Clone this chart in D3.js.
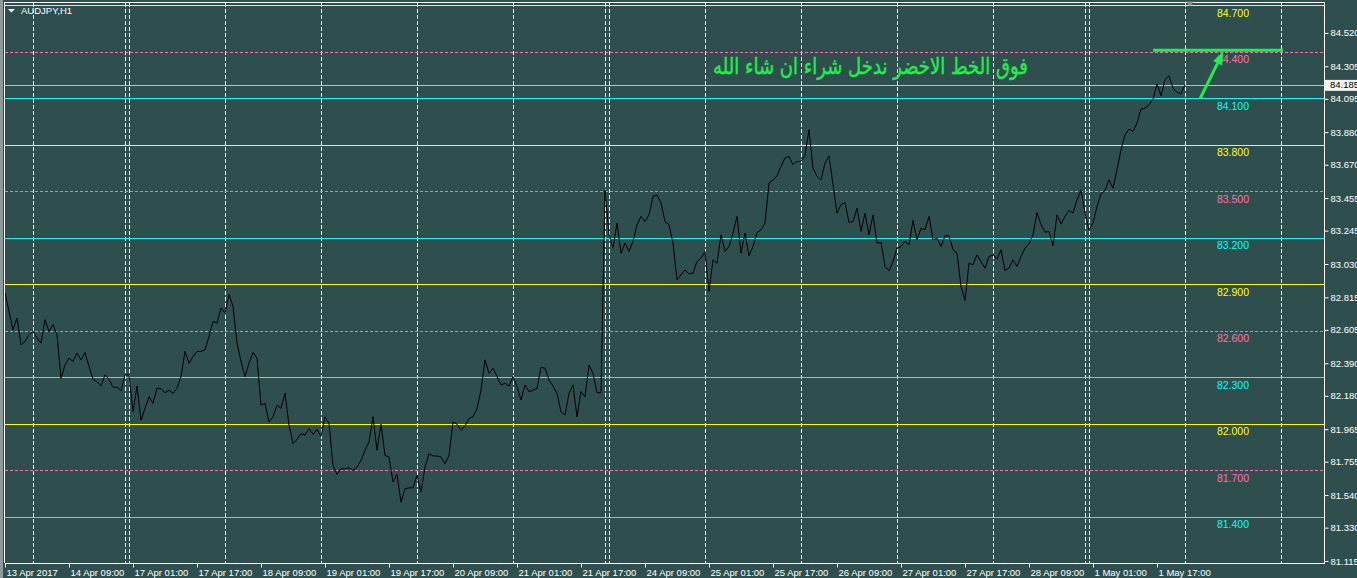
<!DOCTYPE html>
<html><head><meta charset="utf-8">
<script src="https://cdn.jsdelivr.net/npm/d3@7"></script>
<style>html,body{margin:0;padding:0;background:#2F4F4F;overflow:hidden}</style>
</head><body><svg id="c" width="1357" height="578"></svg>
<script>
// ---------- data ----------
const symbolTitle = "AUDJPY,H1";
const closes = [
82.844,82.725,82.606,82.682,82.509,82.531,82.574,82.595,82.552,82.520,
82.671,82.595,82.639,82.574,82.293,82.379,82.423,82.401,82.455,82.412,
82.459,82.369,82.287,82.271,82.243,82.315,82.287,82.235,82.235,82.213,
82.315,82.315,82.077,82.243,82.023,82.099,82.174,82.131,82.228,82.228,
82.200,82.217,82.196,82.228,82.304,82.466,82.390,82.433,82.466,82.466,
82.477,82.563,82.660,82.649,82.747,82.714,82.833,82.757,82.520,82.401,
82.304,82.390,82.459,82.423,82.120,82.131,82.012,82.045,82.120,82.099,
82.196,81.991,81.872,81.898,81.937,81.926,81.969,81.932,81.963,81.919,
82.045,82.002,81.732,81.673,81.710,81.710,81.716,81.699,81.721,81.764,
81.829,81.883,82.045,81.829,81.997,81.796,81.786,81.624,81.673,81.494,
81.580,81.587,81.587,81.667,81.559,81.721,81.807,81.792,81.792,81.786,
81.742,81.796,82.012,81.997,81.958,81.986,82.034,82.045,82.099,82.217,
82.412,82.325,82.358,82.304,82.250,82.261,82.243,82.304,82.239,82.153,
82.250,82.207,82.217,82.228,82.364,82.358,82.282,82.243,82.196,82.077,
82.056,82.196,82.250,82.045,82.207,82.174,82.379,82.325,82.200,82.200,
83.509,83.218,83.132,83.294,83.100,83.165,83.111,83.175,83.283,83.337,
83.304,83.347,83.466,83.476,83.423,83.304,83.283,83.165,82.928,82.960,
82.992,82.967,82.971,83.046,83.068,83.111,82.853,83.057,83.035,83.218,
83.111,83.143,83.229,83.337,83.100,83.229,83.083,83.143,83.233,83.251,
83.294,83.552,83.573,83.599,83.659,83.713,83.724,83.670,83.691,83.691,
83.734,83.896,83.648,83.595,83.573,83.681,83.728,83.541,83.358,83.412,
83.427,83.298,83.304,83.390,83.240,83.358,83.218,83.347,83.165,83.169,
83.014,82.986,83.046,83.132,83.143,83.175,83.154,83.311,83.186,83.261,
83.251,83.337,83.186,83.197,83.143,83.212,83.212,83.122,83.100,82.885,
82.795,83.035,83.025,83.089,83.046,83.003,83.078,83.089,83.061,83.122,
82.988,83.003,83.057,83.014,83.078,83.132,83.160,83.218,83.362,83.283,
83.235,83.240,83.147,83.347,83.289,83.337,83.375,83.358,83.444,83.504,
83.358,83.251,83.294,83.401,83.483,83.504,83.573,83.519,83.638,83.767,
83.863,83.900,83.885,83.939,84.029,84.035,84.057,84.094,84.192,84.115,
84.218,84.244,84.165,84.137,84.128,84.185
];
const xTickBars = [0,16,32,48,64,80,96,112,128,144,160,176,192,208,224,240,256,272,288];
const xTickLabels = ["13 Apr 2017","14 Apr 09:00","17 Apr 01:00","17 Apr 17:00","18 Apr 09:00",
  "19 Apr 01:00","19 Apr 17:00","20 Apr 09:00","21 Apr 01:00","21 Apr 17:00","24 Apr 09:00",
  "25 Apr 01:00","25 Apr 17:00","26 Apr 09:00","27 Apr 01:00","27 Apr 17:00","28 Apr 09:00",
  "1 May 01:00","1 May 17:00"];
const dayStartBars = [7,31,55,79,103,127,151,175,199,223,247,271,295,319];
const weekEndBars = [30,150,270];
const priceTicks = [84.520,84.305,84.095,83.880,83.670,83.455,83.245,83.030,82.815,82.605,
  82.390,82.180,81.965,81.755,81.540,81.330,81.115];
const yellowLevels = [84.7,83.8,82.9,82.0,81.1];
const pinkLevels = [84.4,83.5,82.6,81.7];
const cyanLevels = [84.1,83.2,82.3,81.4];
const bidPrice = 84.185;
const noteText = "فوق الخط الاخضر ندخل شراء ان شاء الله";
const noteAnchor = {bar: 255.75, price: 84.258};
const greenLine = {fromBar: 287, toBar: 319.5, price: 84.408};
const greenArrow = {fromBar: 298.75, fromPrice: 84.095, toBar: 304.6, toPrice: 84.400};
const levelLabelBar = 307;

// ---------- chart ----------
const svg = d3.select("#c");
const L = 5, R = 1324, T = 5, B = 563;
const x = d3.scaleLinear().domain([0, (R - L) / 4]).range([L, R]);
const y = d3.scaleLinear().domain([81.102, 84.70]).range([B, T]);
const FONT = "'Liberation Sans', Arial, sans-serif";

svg.append("rect").attr("width", 1357).attr("height", 578).attr("fill", "#2F4F4F");
svg.append("rect").attr("x", 0).attr("y", 0).attr("width", 3).attr("height", 578).attr("fill", "#8c9c9c");

// vertical grid
const gridBars = dayStartBars.concat(weekEndBars);
svg.append("g").selectAll("line").data(gridBars).join("line")
  .attr("x1", d => Math.round(x(d)) + 0.5).attr("x2", d => Math.round(x(d)) + 0.5)
  .attr("y1", T - 2).attr("y2", B)
  .attr("stroke", "#ffffff").attr("stroke-width", 1).attr("stroke-dasharray", "4,2");

// level lines
function hline(levels, color, dash) {
  svg.append("g").selectAll("line").data(levels).join("line")
    .attr("x1", L).attr("x2", R)
    .attr("y1", d => Math.round(y(d)) + 0.5).attr("y2", d => Math.round(y(d)) + 0.5)
    .attr("stroke", color).attr("stroke-width", 1.2)
    .attr("stroke-dasharray", dash);
}
hline(pinkLevels, "#ff6eb4", "3,2");
hline(cyanLevels, "#00ffff", null);
hline(yellowLevels, "#ffff00", null);
// bid line
svg.append("line").attr("x1", L).attr("x2", R)
  .attr("y1", Math.round(y(bidPrice)) + 0.5).attr("y2", Math.round(y(bidPrice)) + 0.5)
  .attr("stroke", "#c0c0c0").attr("stroke-width", 1);

// level labels
function lvlLabels(levels, color) {
  svg.append("g").selectAll("text").data(levels.filter(d => y(d) + 12 < B)).join("text")
    .attr("x", x(levelLabelBar)).attr("y", d => y(d) + 11.5)
    .attr("text-anchor", "middle").attr("fill", color)
    .attr("font-family", FONT).attr("font-size", "10.5px")
    .text(d => d.toFixed(3));
}
lvlLabels(yellowLevels, "#ffff00");
lvlLabels(pinkLevels, "#ff6eb4");
lvlLabels(cyanLevels, "#00ffff");

// price line
svg.append("path").datum(closes)
  .attr("d", d3.line().x((d, i) => x(i)).y(d => y(d)))
  .attr("fill", "none").attr("stroke", "#000000").attr("stroke-width", 1);

// frame
svg.append("line").attr("x1", 4).attr("x2", R).attr("y1", 2.5).attr("y2", 2.5).attr("stroke", "#fff");
svg.append("line").attr("x1", 4.5).attr("x2", 4.5).attr("y1", 2).attr("y2", B).attr("stroke", "#fff");

// right axis
const ra = svg.append("g").attr("transform", `translate(${R + 0.5},0)`)
  .call(d3.axisRight(y).tickValues(priceTicks).tickFormat(d3.format(".3f")).tickSize(4).tickPadding(2));
ra.select(".domain").attr("stroke", "#fff").attr("d", `M0,${T - 3}V${B + 1}`);
ra.selectAll(".tick line").attr("stroke", "#fff");
ra.selectAll(".tick text").attr("fill", "#fff").attr("font-family", FONT).attr("font-size", "9.5px");

// bottom axis
const ba = svg.append("g").attr("transform", `translate(0,${B + 0.5})`)
  .call(d3.axisBottom(x).tickValues(xTickBars).tickFormat((d, i) => xTickLabels[i]).tickSize(4));
ba.select(".domain").attr("stroke", "#fff").attr("d", `M${L},0H${R + 1}`);
ba.selectAll(".tick line").attr("stroke", "#fff");
ba.selectAll(".tick text").attr("fill", "#fff").attr("font-family", FONT).attr("font-size", "9.5px")
  .attr("text-anchor", "start").attr("x", 1).attr("y", 6);

// bid label
svg.append("rect").attr("x", R + 1).attr("y", y(bidPrice) - 5).attr("width", 40).attr("height", 11)
  .attr("fill", "#f4f4ec");
svg.append("text").attr("x", R + 6).attr("y", y(bidPrice)).attr("dy", "0.35em")
  .attr("fill", "#000").attr("font-family", FONT).attr("font-size", "9.5px").text(bidPrice.toFixed(3));

// title
svg.append("path").attr("d", "M8,9L15,9L11.5,12.5Z").attr("fill", "#fff");
svg.append("text").attr("x", 21).attr("y", 14).attr("fill", "#fff")
  .attr("font-family", FONT).attr("font-size", "9.5px").text(symbolTitle);
// shift marker
svg.append("path").attr("d", `M${x(296.25) - 4},1.5L${x(296.25) + 4},1.5L${x(296.25)},6.5Z`).attr("fill", "#909090");

// green objects
const GREEN = "#1ff04a";
svg.append("line").attr("x1", x(greenLine.fromBar)).attr("x2", x(greenLine.toBar))
  .attr("y1", y(greenLine.price)).attr("y2", y(greenLine.price))
  .attr("stroke", GREEN).attr("stroke-width", 3);
{
  const x1 = x(greenArrow.fromBar), y1 = y(greenArrow.fromPrice);
  const x2 = x(greenArrow.toBar), y2 = y(greenArrow.toPrice);
  const dx = x2 - x1, dy = y2 - y1, len = Math.hypot(dx, dy);
  const ux = dx / len, uy = dy / len, hl = 13, hw = 5;
  const bx = x2 - ux * hl, by = y2 - uy * hl;
  svg.append("line").attr("x1", x1).attr("y1", y1).attr("x2", bx).attr("y2", by)
    .attr("stroke", GREEN).attr("stroke-width", 3);
  svg.append("path").attr("d", `M${x2},${y2}L${bx - uy * hw},${by + ux * hw}L${bx + uy * hw},${by - ux * hw}Z`)
    .attr("fill", GREEN);
}
const note = svg.append("text").attr("x", x(noteAnchor.bar)).attr("y", y(noteAnchor.price))
  .attr("text-anchor", "end").attr("fill", GREEN)
  .attr("font-family", "'DejaVu Sans', 'Noto Sans', sans-serif").attr("font-size", "23px")
  .attr("stroke", GREEN).attr("stroke-width", 0.4)
  .text(noteText);
const w = note.node().getComputedTextLength();
if (w > 0) note.attr("textLength", 315).attr("lengthAdjust", "spacingAndGlyphs");
</script></body></html>
